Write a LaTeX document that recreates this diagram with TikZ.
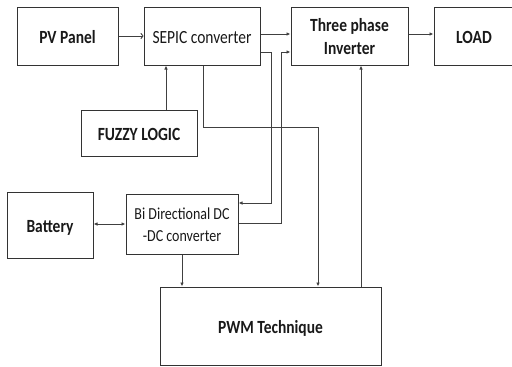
\documentclass[tikz,border=0pt]{standalone}
\usepackage{fontspec}
\setmainfont{Carlito}
\usetikzlibrary{arrows.meta}
\newcommand{\vst}[1]{\raisebox{-2.5pt}[\height][\depth]{\scalebox{1}[1.2]{\begin{tabular}{@{}c@{}}#1\end{tabular}}}}
\tikzset{
  blk/.style={draw=black!80, line width=1pt, rectangle, inner sep=0pt, align=center, text=black!90},
  bigf/.style={font=\fontsize{15.5}{19}\selectfont\bfseries},
  regf/.style={font=\fontsize{15.5}{19}\selectfont},
  smf/.style={font=\fontsize{14}{18.3}\selectfont},
  conn/.style={draw=black!75, line width=0.9pt},
  arr/.style={conn, -{Latex[length=4pt,width=3.5pt]}},
  arrb/.style={conn, {Latex[length=4pt,width=3.5pt]}-{Latex[length=4pt,width=3.5pt]}},
  arro/.style={conn, -{To[length=3pt,width=6pt]}}
}
\begin{document}
\begin{tikzpicture}[x=1pt,y=-1pt]
\useasboundingbox (0,0) rectangle (512,367);
\node[blk,bigf,minimum width=101pt,minimum height=58pt] (pv) at (67.5,36) {\vst{PV Panel}};
\node[blk,regf,minimum width=116pt,minimum height=58pt] (sepic) at (202,36) {\vst{SEPIC converter}};
\node[blk,bigf,minimum width=117pt,minimum height=58pt] (inv) at (349.5,36) {\vst{Three phase\\Inverter}};
\node[blk,bigf,minimum width=80pt,minimum height=58pt] (load) at (474,36) {\vst{LOAD}};
\node[blk,bigf,minimum width=116pt,minimum height=46pt] (fuzzy) at (139,133) {\vst{FUZZY LOGIC}};
\node[blk,bigf,minimum width=86pt,minimum height=66pt] (batt) at (50,225) {\vst{Battery}};
\node[blk,smf,minimum width=112pt,minimum height=60pt] (bidc) at (182,224) {\vst{Bi Directional DC\\-DC converter}};
\node[blk,bigf,minimum width=221pt,minimum height=78pt] (pwm) at (270.5,326) {\vst{PWM Technique}};

\coordinate (c1) at (271,52);
\coordinate (c2) at (271,203);
\coordinate (c3) at (281,223);
\coordinate (c4) at (281,52);
\coordinate (c5) at (203,127);
\coordinate (c6) at (318,127);

\draw[arro] (pv.east) -- (sepic.west);
\draw[arr] ([yshift=2pt]sepic.east) -- ([yshift=2pt]inv.west);
\draw[arr] ([yshift=2pt]inv.east) -- ([yshift=2pt]load.west);
\draw[arr] ([yshift=-16pt]sepic.east) -- (c1) -- (c2) -- (c2 -| bidc.east);
\draw[arr] (c3 -| bidc.east) -- (c3) -- (c4) -- (c4 -| inv.west);
\draw[arr] (c5 |- sepic.south) -- (c5) -- (c6) -- (c6 |- pwm.north);
\draw[arr] (pwm.north -| 361,0) -- (inv.south -| 361,0);
\draw[arr] (fuzzy.north -| 166,0) -- (sepic.south -| 166,0);
\draw[arrb] (batt.east |- bidc.east) -- (bidc.west);
\draw[arr] (bidc.south) -- (bidc.south |- pwm.north);
\end{tikzpicture}
\end{document}
